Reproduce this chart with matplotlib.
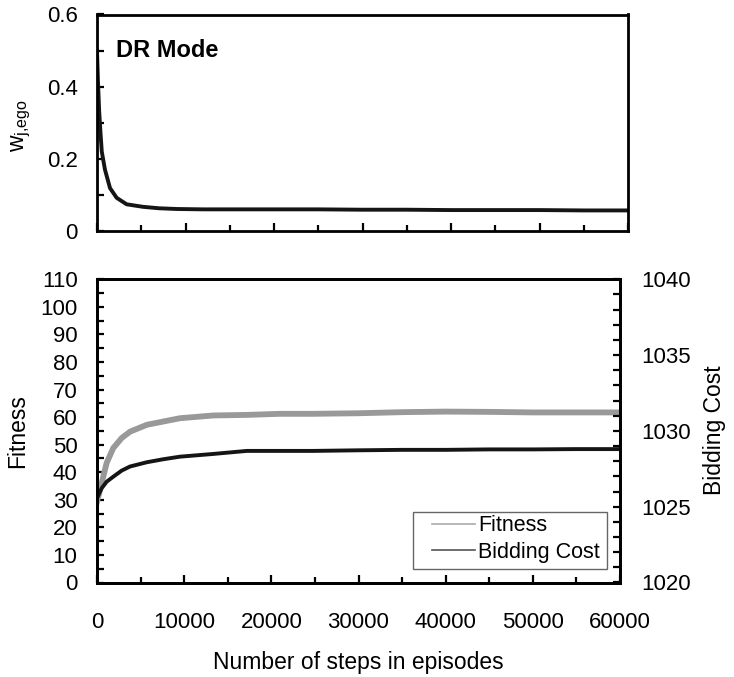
import matplotlib
matplotlib.use("Agg")
import matplotlib.pyplot as plt
from matplotlib.ticker import MultipleLocator
from matplotlib.lines import Line2D
from matplotlib.patches import Rectangle

plt.rcParams['font.family'] = ['Liberation Sans', 'DejaVu Sans']
plt.rcParams['mathtext.fontset'] = 'custom'
plt.rcParams['mathtext.rm'] = 'Liberation Sans'

# ego weight over training steps (DR mode)
w_steps = [0, 100, 250, 400, 540, 900, 1470, 2220, 3350, 5200, 7000, 9000,
           12000, 16000, 20000, 25000, 30000, 35000, 40000, 45000, 50000,
           55000, 60000]
w_vals = [0.50, 0.42, 0.33, 0.27, 0.22, 0.17, 0.119, 0.092, 0.074, 0.067,
          0.063, 0.061, 0.060, 0.060, 0.060, 0.060, 0.059, 0.059, 0.058,
          0.058, 0.058, 0.057, 0.057]

# fitness and bidding cost over training steps
steps = [0, 540, 1110, 1870, 2830, 3780, 5700, 7600, 9520, 13340, 17170,
         20990, 24770, 30000, 35000, 40000, 45000, 50000, 55000, 60000]
fitness = [29.3, 36.1, 43.4, 48.8, 52.4, 54.7, 57.2, 58.4, 59.6, 60.6, 60.8,
           61.2, 61.2, 61.4, 61.8, 62.0, 61.9, 61.7, 61.7, 61.7]
bidding = [1025.56, 1026.22, 1026.65, 1026.98, 1027.38, 1027.65, 1027.93,
           1028.13, 1028.30, 1028.48, 1028.68, 1028.68, 1028.68, 1028.72,
           1028.75, 1028.75, 1028.78, 1028.78, 1028.80, 1028.80]

TICK_FS = 16
LABEL_FS = 16.5

fig = plt.figure(figsize=(7.34, 6.77), dpi=100)
W, H = 734, 677

def px_axes(x0, y0, x1, y1):
    return fig.add_axes([x0 / W, 1 - y1 / H, (x1 - x0) / W, (y1 - y0) / H])

def style_spines(ax, lw=2.0):
    for s in ax.spines.values():
        s.set_linewidth(lw)
        s.set_color('black')

# ---- top panel ----
ax1 = px_axes(97, 14.5, 628, 231)
ax1.plot(w_steps, w_vals, color='#151515', lw=2.8, solid_joinstyle='round')
ax1.set_xlim(0, 60000)
ax1.set_ylim(0, 0.6)
ax1.xaxis.set_major_locator(MultipleLocator(10000))
ax1.xaxis.set_minor_locator(MultipleLocator(5000))
ax1.yaxis.set_minor_locator(MultipleLocator(0.1))
ax1.set_yticks([0, 0.2, 0.4, 0.6])
ax1.set_yticklabels(['0', '0.2', '0.4', '0.6'])
ax1.tick_params(axis='both', which='both', direction='in', width=1.6,
                labelsize=TICK_FS, pad=14)
ax1.tick_params(axis='x', which='major', length=6, labelbottom=False)
ax1.tick_params(axis='x', which='minor', length=4)
ax1.tick_params(axis='y', which='both', length=5)
style_spines(ax1)
ax1.text(0.036, 0.835, 'DR Mode', transform=ax1.transAxes, fontsize=17,
         fontweight='bold', va='center', ha='left')
fig.text(21 / W, 1 - 126 / H, r'$\mathregular{w_{j{,}ego}}$', rotation=90,
         fontsize=LABEL_FS, ha='center', va='center')

# ---- bottom panel ----
ax2 = px_axes(97, 279.3, 620, 582.5)
ax3 = ax2.twinx()
ax2.plot(steps, fitness, color='#999999', lw=4.2, solid_joinstyle='round')
ax3.plot(steps, bidding, color='#151515', lw=2.8, solid_joinstyle='round')
ax2.set_xlim(0, 60000)
ax2.set_ylim(0, 110)
ax3.set_ylim(1020, 1040)
ax2.xaxis.set_major_locator(MultipleLocator(10000))
ax2.xaxis.set_minor_locator(MultipleLocator(5000))
ax2.yaxis.set_major_locator(MultipleLocator(10))
ax2.yaxis.set_minor_locator(MultipleLocator(5))
ax3.yaxis.set_major_locator(MultipleLocator(5))
ax3.yaxis.set_minor_locator(MultipleLocator(1))
ax2.tick_params(axis='both', which='both', direction='in', width=1.6,
                labelsize=TICK_FS)
ax2.tick_params(axis='y', which='both', length=5, pad=14)
ax2.tick_params(axis='x', which='major', length=6, pad=21)
ax2.tick_params(axis='x', which='minor', length=4)
ax3.tick_params(axis='y', which='both', direction='in', width=1.6,
                length=5, labelsize=TICK_FS, pad=15)
style_spines(ax2)
style_spines(ax3)

fig.text(18 / W, 1 - 431 / H, 'Fitness', rotation=90, fontsize=LABEL_FS,
         ha='center', va='center')
fig.text(715 / W, 1 - 430 / H, 'Bidding Cost', rotation=90,
         fontsize=LABEL_FS, ha='center', va='center')
fig.text(358 / W, 1 - 662 / H, 'Number of steps in episodes',
         fontsize=LABEL_FS, ha='center', va='center')

# legend frame drawn as a plain rectangle, entries placed inside it
frame = Rectangle((413 / W, 1 - 569 / H), (607 - 413) / W, (569 - 512) / H,
                  transform=fig.transFigure, facecolor='white',
                  edgecolor='#666666', lw=1.0, zorder=5, clip_on=False)
ax3.add_patch(frame)
handles = [Line2D([], [], color='#aaaaaa', lw=1.2),
           Line2D([], [], color='#555555', lw=1.2)]
leg = ax3.legend(handles, ['Fitness', 'Bidding Cost'], loc='center left',
                 bbox_to_anchor=(432 / W, 1 - 539 / H),
                 bbox_transform=fig.transFigure, fontsize=15.5, frameon=False,
                 handlelength=2.0, handletextpad=0.15, borderpad=0,
                 labelspacing=0.25, borderaxespad=0)
leg.set_zorder(6)

fig.savefig('out.png', dpi=100)
